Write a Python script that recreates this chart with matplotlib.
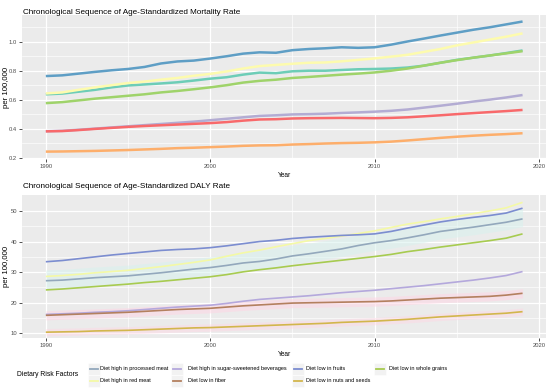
import matplotlib
matplotlib.use("Agg")
import matplotlib.pyplot as plt
from matplotlib.patches import Rectangle
from matplotlib.lines import Line2D
import numpy as np

plt.rcParams['font.family'] = ['Liberation Sans', 'DejaVu Sans']

# ---- data -------------------------------------------------------------
years = list(range(1990, 2020))

# age-standardized mortality rate (per 100,000)
mort_fruits = [0.763, 0.768, 0.780, 0.792, 0.803, 0.812, 0.826, 0.850, 0.864, 0.870,
               0.884, 0.900, 0.918, 0.927, 0.924, 0.942, 0.950, 0.955, 0.962, 0.958,
               0.962, 0.980, 1.002, 1.022, 1.043, 1.063, 1.083, 1.100, 1.120, 1.140]
mort_red_meat = [0.643, 0.650, 0.668, 0.685, 0.700, 0.715, 0.725, 0.738, 0.750, 0.765,
                 0.778, 0.795, 0.815, 0.832, 0.840, 0.848, 0.855, 0.857, 0.865, 0.875,
                 0.885, 0.897, 0.910, 0.930, 0.950, 0.975, 0.995, 1.015, 1.035, 1.058]
mort_processed = [0.637, 0.642, 0.655, 0.668, 0.685, 0.698, 0.705, 0.712, 0.720, 0.732,
                  0.745, 0.755, 0.773, 0.787, 0.783, 0.796, 0.800, 0.800, 0.805, 0.810,
                  0.812, 0.815, 0.822, 0.835, 0.855, 0.875, 0.890, 0.905, 0.922, 0.940]
mort_grains = [0.576, 0.583, 0.595, 0.607, 0.617, 0.627, 0.637, 0.650, 0.660, 0.672,
               0.685, 0.700, 0.718, 0.730, 0.738, 0.750, 0.757, 0.765, 0.773, 0.780,
               0.788, 0.800, 0.815, 0.835, 0.855, 0.873, 0.890, 0.905, 0.920, 0.935]
mort_ssb = [0.382, 0.385, 0.392, 0.400, 0.408, 0.416, 0.424, 0.432, 0.440, 0.448,
            0.458, 0.468, 0.478, 0.488, 0.492, 0.498, 0.500, 0.503, 0.508, 0.512,
            0.517, 0.523, 0.532, 0.545, 0.558, 0.572, 0.587, 0.600, 0.615, 0.632]
mort_fiber = [0.381, 0.383, 0.390, 0.398, 0.405, 0.412, 0.418, 0.423, 0.428, 0.433,
              0.438, 0.445, 0.455, 0.463, 0.465, 0.470, 0.472, 0.473, 0.474, 0.473,
              0.472, 0.474, 0.478, 0.485, 0.492, 0.500, 0.507, 0.514, 0.521, 0.529]
mort_nuts = [0.241, 0.242, 0.244, 0.246, 0.249, 0.252, 0.256, 0.260, 0.265, 0.268,
             0.272, 0.276, 0.281, 0.284, 0.285, 0.290, 0.293, 0.297, 0.300, 0.302,
             0.305, 0.310, 0.318, 0.327, 0.336, 0.344, 0.351, 0.357, 0.362, 0.368]

# age-standardized DALY rate (per 100,000)
daly_fruits = [33.4, 33.8, 34.4, 35.0, 35.6, 36.1, 36.6, 37.1, 37.4, 37.6,
               38.0, 38.6, 39.3, 40.0, 40.4, 41.0, 41.4, 41.7, 42.0, 42.2,
               42.5, 43.3, 44.4, 45.4, 46.4, 47.2, 47.9, 48.5, 49.3, 50.9]
daly_red_meat = [28.6, 28.9, 29.3, 29.8, 30.2, 30.6, 31.2, 31.8, 32.5, 33.2,
                 34.0, 35.2, 36.3, 37.2, 38.3, 39.3, 40.3, 41.0, 41.8, 42.6,
                 43.5, 44.6, 45.7, 46.5, 47.4, 48.2, 49.1, 50.0, 51.0, 52.8]
daly_processed = [27.2, 27.4, 27.8, 28.2, 28.5, 28.8, 29.3, 29.8, 30.4, 31.0,
                  31.5, 32.2, 33.0, 33.5, 34.3, 35.3, 36.0, 36.8, 37.6, 38.7,
                  39.6, 40.3, 41.2, 42.2, 43.3, 44.0, 44.7, 45.5, 46.3, 47.4]
daly_grains = [24.2, 24.5, 24.9, 25.3, 25.7, 26.1, 26.6, 27.0, 27.5, 28.0,
               28.5, 29.2, 30.1, 30.8, 31.4, 32.1, 32.7, 33.3, 33.9, 34.5,
               35.1, 35.8, 36.7, 37.4, 38.2, 38.9, 39.6, 40.3, 41.1, 42.5]
daly_ssb = [16.2, 16.4, 16.6, 16.9, 17.1, 17.4, 17.8, 18.2, 18.6, 18.9,
            19.2, 19.8, 20.5, 21.1, 21.5, 21.9, 22.3, 22.8, 23.3, 23.7,
            24.1, 24.6, 25.1, 25.6, 26.2, 26.8, 27.4, 28.1, 28.9, 30.2]
daly_fiber = [15.9, 16.1, 16.3, 16.5, 16.7, 16.9, 17.2, 17.5, 17.8, 18.0,
              18.2, 18.6, 19.0, 19.3, 19.6, 19.9, 20.0, 20.1, 20.2, 20.3,
              20.4, 20.6, 20.9, 21.2, 21.5, 21.7, 21.9, 22.1, 22.5, 23.1]
daly_nuts = [10.4, 10.5, 10.6, 10.8, 10.9, 11.0, 11.2, 11.4, 11.6, 11.8,
             11.9, 12.1, 12.3, 12.5, 12.7, 12.9, 13.1, 13.3, 13.6, 13.8,
             14.0, 14.3, 14.6, 15.0, 15.4, 15.7, 16.0, 16.3, 16.6, 17.1]

factors = ['Diet high in processed meat', 'Diet high in red meat',
           'Diet high in sugar-sweetened beverages', 'Diet low in fiber',
           'Diet low in fruits', 'Diet low in nuts and seeds',
           'Diet low in whole grains']

mort_series = [mort_processed, mort_red_meat, mort_ssb, mort_fiber,
               mort_fruits, mort_nuts, mort_grains]
daly_series = [daly_processed, daly_red_meat, daly_ssb, daly_fiber,
               daly_fruits, daly_nuts, daly_grains]

mort_colors = ['#6dcdb7', '#fdfbae', '#b3acd3', '#f8696b', '#5e9ec5', '#fdae6b', '#9fd36a']
daly_colors = ['#93a8bc', '#f4f9a6', '#b4a8dc', '#b3805f', '#7c8dd0', '#d2b64c', '#a7cb50']

# ---- figure -----------------------------------------------------------
W, H = 550, 389
fig = plt.figure(figsize=(W / 100, H / 100), dpi=100)
fig.patch.set_facecolor('white')


def px_ax(x0, y0, x1, y1):
    return fig.add_axes([x0 / W, 1 - y1 / H, (x1 - x0) / W, (y1 - y0) / H])


def style(ax, yticks, ylabels, yminor):
    ax.set_facecolor('#ebebeb')
    for s in ax.spines.values():
        s.set_visible(False)
    ax.set_xlim(1988.55, 2020.45)
    ax.set_xticks([1990, 2000, 2010, 2020])
    ax.set_xticks([1995, 2005, 2015], minor=True)
    ax.set_yticks(yticks)
    ax.set_yticklabels(ylabels)
    ax.set_yticks(yminor, minor=True)
    ax.grid(which='major', color='white', linewidth=0.9)
    ax.grid(which='minor', color='white', linewidth=0.45)
    ax.set_axisbelow(True)
    ax.tick_params(which='major', length=2, width=0.6, color='#333333',
                   labelsize=4.2, labelcolor='#4d4d4d', pad=1.5)
    ax.tick_params(which='minor', length=0)
    ax.set_ylabel('per 100,000', fontsize=5.6, va='center')
    ax.yaxis.set_label_coords(-15.5 / 524.4, 0.5)
    ax.set_xlabel('Year', fontsize=4.8, labelpad=2)


# top panel: mortality
ax1 = px_ax(22, 15, 546.4, 159)
ax1.set_ylim(0.19, 1.185)
style(ax1, [0.2, 0.4, 0.6, 0.8, 1.0], ['0.2', '0.4', '0.6', '0.8', '1.0'],
      [0.3, 0.5, 0.7, 0.9, 1.1])
for vals, c in zip(mort_series, mort_colors):
    ax1.plot(years, vals, color=c, linewidth=1.8, solid_capstyle='butt')
fig.text(23 / W, 1 - 12 / H, 'Chronological Sequence of Age-Standardized Mortality Rate',
         fontsize=5.9, ha='left', va='center')

# bottom panel: DALY
ax2 = px_ax(22, 195, 546.4, 338.3)
ax2.set_ylim(8.4, 55.2)
style(ax2, [10, 20, 30, 40, 50], ['10', '20', '30', '40', '50'], [15, 25, 35, 45])
# faint uncertainty ribbons
ax2.fill_between(years, np.array(daly_processed) - 2.5, np.array(daly_processed) + 3.5,
                 color='#d8f2ee', alpha=0.55, linewidth=0)
ax2.fill_between(years, np.array(daly_fiber) - 1.5, np.array(daly_fiber) + 1.5,
                 color='#ffd6e4', alpha=0.55, linewidth=0)
ax2.fill_between(years, np.array(daly_nuts) - 1.2, np.array(daly_nuts) + 1.2,
                 color='#ffd6e4', alpha=0.45, linewidth=0)
for vals, c in zip(daly_series, daly_colors):
    ax2.plot(years, vals, color=c, linewidth=1.2, solid_capstyle='butt')
fig.text(23 / W, 1 - 187 / H, 'Chronological Sequence of Age-Standardized DALY Rate',
         fontsize=5.9, ha='left', va='center')

# ---- legend (built by hand, ggplot style) ----------------------------
fig.text(17 / W, 1 - 374.5 / H, 'Dietary Risk Factors', fontsize=4.9,
         ha='left', va='center')
key_x = [93.5, 176.5, 297.5, 380]
text_x = [100, 187.5, 305.5, 388.5]
row_y = [368.7, 380.7]
for i, (name, c) in enumerate(zip(factors, daly_colors)):
    col, row = i // 2, i % 2
    kx, ky = key_x[col], row_y[row]
    fig.patches.append(Rectangle(((kx - 6) / W, 1 - (ky + 6) / H), 12 / W, 12 / H,
                                 transform=fig.transFigure, facecolor='#f2f2f2',
                                 edgecolor='white', linewidth=0.4))
    fig.lines.append(Line2D([(kx - 4) / W, (kx + 4) / W], [1 - ky / H, 1 - ky / H],
                            transform=fig.transFigure, color=c, linewidth=1.3))
    fig.text(text_x[col] / W, 1 - ky / H, name, fontsize=4.0, ha='left', va='center')

fig.savefig('out.png', dpi=100)
